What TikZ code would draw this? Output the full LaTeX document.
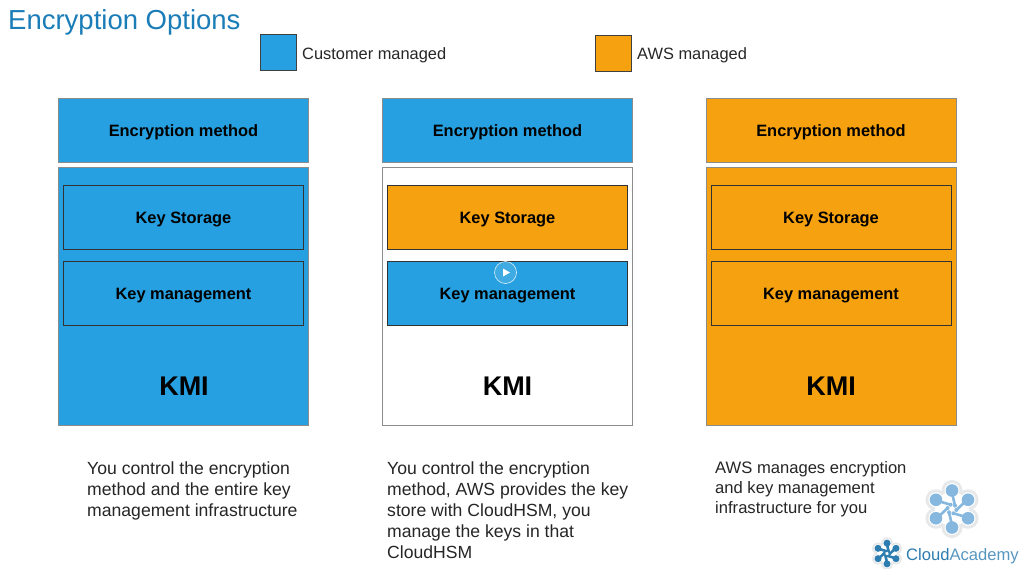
\documentclass[tikz,border=0pt]{standalone}
\usepackage{fontspec}
\setmainfont{Liberation Sans}
\definecolor{cblue}{HTML}{26A0E0}
\definecolor{corange}{HTML}{F6A10F}
\definecolor{title}{HTML}{1A7DB8}
\definecolor{logoa}{HTML}{85B7DF}
\definecolor{logob}{HTML}{2E7DB0}
\definecolor{logoh}{HTML}{E6E8EA}
\tikzset{
  px/.style={x=1pt,y=-1pt},
  outerbox/.style={draw=black!45,line width=0.8pt,minimum width=250pt,anchor=north west,inner sep=0pt},
  innerbox/.style={draw=black!80,line width=0.9pt,minimum width=240pt,minimum height=64pt,anchor=north west,inner sep=0pt},
  boxlabel/.style={font=\fontsize{16.4}{20}\selectfont\bfseries},
  kmi/.style={font=\fontsize{27}{30}\selectfont\bfseries},
  legendbox/.style={draw=black!75,line width=0.9pt,minimum width=36pt,minimum height=36pt,anchor=north west,inner sep=0pt},
  legendtext/.style={anchor=west,inner sep=0pt,font=\fontsize{16.4}{20}\selectfont,text=black!85},
  body/.style={anchor=north west,inner sep=0pt,align=left,text=black!85}
}
\newcommand{\logomark}[5]{% x y scale halo arm
  \begin{scope}[shift={(#1pt,-#2pt)},scale=#3]
    \foreach \a in {90,150,...,390}{
      \fill[logoh] (\a:18.5pt) circle (10.5pt);
    }
    \fill[logoh] (0,0) circle (20pt);
    \foreach \a in {90,150,...,390}{
      \fill[white] (\a:18.5pt) circle (7.5pt);
    }
    \fill[white] (0,0) circle (17pt);
    \foreach \a in {90,150,...,390}{
      \draw[#5,line width=2.6pt,line cap=round] (\a-42:4.5pt) -- (\a:16pt);
      \fill[#5] (\a:18.5pt) circle (6.3pt);
      \fill[#5] (\a-42:4.5pt) circle (2pt);
    }
  \end{scope}}
\begin{document}
\begin{tikzpicture}[px]
\useasboundingbox (0,0) rectangle (1027,568);
\fill[white] (0,0) rectangle (1027,568);
\node[anchor=west,inner sep=0pt,font=\fontsize{27.5}{30}\selectfont,text=title] (ttl) at (8,22) {Encryption Options};
\node[legendbox,fill=cblue] (lc) at (260,34) {};
\node[legendtext] (lct) at (302,55.5) {Customer managed};
\node[legendbox,fill=corange] (la) at (595,35) {};
\node[legendtext] (lat) at (637,55.5) {AWS managed};
% column 1
\node[outerbox,fill=cblue,minimum height=64pt] (m1) at (58,98) {};
\node[boxlabel] (mt1) at (183.5,132) {Encryption method};
\node[outerbox,fill=cblue,minimum height=258pt] (o1) at (58,167) {};
\node[innerbox,fill=cblue] (s1) at (63,185) {};
\node[boxlabel] (st1) at (183.5,220) {Key Storage};
\node[innerbox,fill=cblue] (g1) at (63,261) {};
\node[boxlabel] (gt1) at (183.5,296) {Key management};
\node[kmi] (k1) at (184,386) {KMI};
% column 2
\node[outerbox,fill=cblue,minimum height=64pt] (m2) at (382,98) {};
\node[boxlabel] (mt2) at (507.5,132) {Encryption method};
\node[outerbox,fill=white,minimum height=258pt] (o2) at (382,167) {};
\node[innerbox,fill=corange] (s2) at (387,185) {};
\node[boxlabel] (st2) at (507.5,220) {Key Storage};
\node[innerbox,fill=cblue] (g2) at (387,261) {};
\node[boxlabel] (gt2) at (507.5,296) {Key management};
\node[kmi] (k2) at (507.5,386) {KMI};
% column 3
\node[outerbox,fill=corange,minimum height=64pt] (m3) at (706,98) {};
\node[boxlabel] (mt3) at (831,132) {Encryption method};
\node[outerbox,fill=corange,minimum height=258pt] (o3) at (706,167) {};
\node[innerbox,fill=corange] (s3) at (710.5,185) {};
\node[boxlabel] (st3) at (831,220) {Key Storage};
\node[innerbox,fill=corange] (g3) at (710.5,261) {};
\node[boxlabel] (gt3) at (831,296) {Key management};
\node[kmi] (k3) at (831,386) {KMI};
% play button
\draw[white!85!cblue,line width=0.6pt,fill=white,fill opacity=0.12] (505.5,272.5) circle (11pt);
\fill[white] (503,268.5) -- (510,272.5) -- (503,276.5) -- cycle;
% descriptions
\node[body,font=\fontsize{17.6}{21}\selectfont] (d1) at (87,462) {You control the encryption\\method and the entire key\\management infrastructure};
\node[body,font=\fontsize{17.6}{21}\selectfont] (d2) at (387,462) {You control the encryption\\method, AWS provides the key\\store with CloudHSM, you\\manage the keys in that\\CloudHSM};
\node[body,font=\fontsize{16.6}{20}\selectfont] (d3) at (715,461) {AWS manages encryption\\and key management\\infrastructure for you};
% logo
\logomark{952}{509}{1}{white}{logoa}
\logomark{887}{553.5}{0.56}{white}{logob}
\node[anchor=west,inner sep=0pt,font=\fontsize{16.6}{20}\selectfont,text=logob] (brand) at (906,556) {Cloud\textcolor{logob!80}{Academy}};
\end{tikzpicture}
\end{document}
